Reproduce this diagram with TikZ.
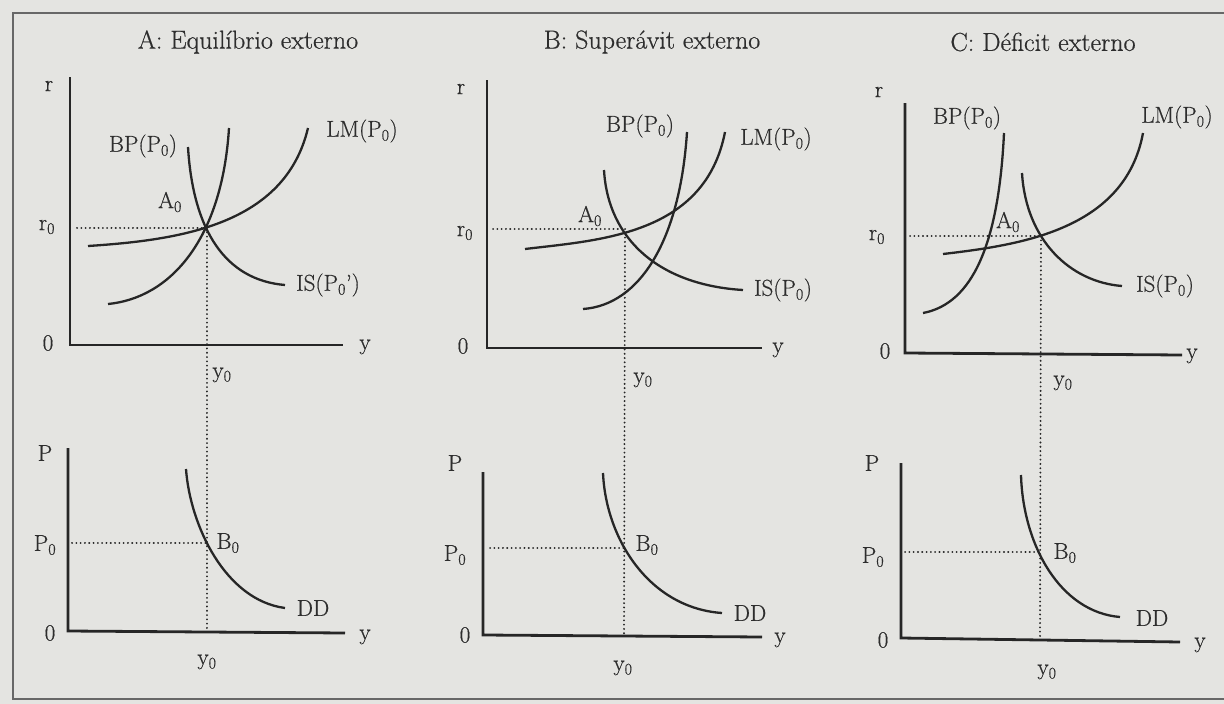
\documentclass[tikz,border=0pt]{standalone}
\usepackage{fontspec}
\setmainfont{Latin Modern Roman}[FakeBold=0.6]
\definecolor{paper}{RGB}{228,228,225}
\definecolor{ink}{RGB}{38,38,38}
\definecolor{txt}{RGB}{45,45,45}
\tikzset{
  curve/.style={draw=ink, line width=2.3pt},
  axis/.style={draw=ink, line width=2.8pt},
  guide/.style={draw=ink, line width=2pt, line cap=round, dash pattern=on 0.1pt off 4.2pt},
  frameline/.style={draw=ink!70, line width=1.3pt},
  lbl/.style={text=txt, inner sep=0pt, font=\fontsize{23}{25}\selectfont},
  ttl/.style={text=txt, inner sep=0pt, font=\fontsize{26}{28}\selectfont}
}
\newcommand{\sz}{\textsubscript{0}}
\begin{document}
\begin{tikzpicture}[x=1pt,y=-1pt]
\useasboundingbox (0,0) rectangle (1224,704);
\fill[paper] (0,0) rectangle (1224,704);
% frame
\draw[frameline] (1224,13) -- (13,13) -- (13,699) -- (1224,699);

% ================= Panel A =================
\node[ttl] (tA) at (248,42) {A: Equilíbrio externo};
% upper axes
\coordinate (A-rtop) at (70,77);
\coordinate (A-o) at (70,345);
\coordinate (A-yend) at (343,345);
\draw[axis] (A-rtop) -- (A-o) -- (A-yend);
\node[lbl] (A-r) at (49,86) {r};
\node[lbl] (A-0) at (48,343) {0};
\node[lbl] (A-y) at (365,347) {y};
\node[lbl] (A-r0) at (47,227) {r\sz};
\coordinate (A-eq) at (207,228);
\coordinate (A-r0l) at (77,228);
\draw[guide] (A-r0l) -- (A-eq);
% curves
\draw[curve] (108,304) .. controls (170,298) and (222,240) .. (229,128);
\draw[curve] (88,246) .. controls (180,240) and (285,225) .. (308,128);
\draw[curve] (188,147) .. controls (193,230) and (225,280) .. (285,285);
\node[lbl] (A-BP) at (143,146) {BP(P\sz)};
\node[lbl] (A-LM) at (362,131) {LM(P\sz)};
\node[lbl] (A-IS) at (328,285) {IS(P\sz')};
\node[lbl] (A-A0) at (170,202) {A\sz};
\node[lbl] (A-y0t) at (222,375) {y\sz};
% lower axes
\coordinate (A-Ptop) at (68,448);
\coordinate (A-o2) at (68,631);
\coordinate (A-yend2) at (345,633);
\draw[axis] (A-Ptop) -- (A-o2) -- (A-yend2);
\coordinate (A-foot) at (207,631);
\draw[guide] (A-eq) -- (A-foot);
\node[lbl] (A-P) at (45,453) {P};
\node[lbl] (A-02) at (50,633) {0};
\node[lbl] (A-y2) at (365,637) {y};
\node[lbl] (A-P0) at (45,545) {P\sz};
\coordinate (A-B) at (207,543);
\coordinate (A-P0l) at (72,543);
\draw[guide] (A-P0l) -- (A-B);
\draw[curve] (186,469) .. controls (190,525) and (225,600) .. (285,608);
\node[lbl] (A-B0) at (228,543) {B\sz};
\node[lbl] (A-DD) at (313,608) {DD};
\node[lbl] (A-y0b) at (207,662) {y\sz};

% ================= Panel B =================
\node[ttl] (tB) at (652,42) {B: Superávit externo};
\coordinate (B-rtop) at (487,80);
\coordinate (B-o) at (487,348);
\coordinate (B-yend) at (762,348);
\draw[axis] (B-rtop) -- (B-o) -- (B-yend);
\node[lbl] (B-r) at (461,89) {r};
\node[lbl] (B-0) at (463,346) {0};
\node[lbl] (B-y) at (778,350) {y};
\node[lbl] (B-r0) at (465,233) {r\sz};
\coordinate (B-eq) at (625,229);
\coordinate (B-r0l) at (493,229);
\draw[guide] (B-r0l) -- (B-eq);
\draw[curve] (525,249) .. controls (600,240) and (705,235) .. (725,132);
\draw[curve] (583,309) .. controls (640,305) and (680,240) .. (687,132);
\draw[curve] (604,170) .. controls (608,240) and (660,285) .. (743,290);
\node[lbl] (B-BP) at (640,126) {BP(P\sz)};
\node[lbl] (B-LM) at (776,139) {LM(P\sz)};
\node[lbl] (B-IS) at (783,290) {IS(P\sz)};
\node[lbl] (B-A0) at (590,216) {A\sz};
\node[lbl] (B-y0t) at (643,380) {y\sz};
\coordinate (B-Ptop) at (483,472);
\coordinate (B-o2) at (483,635);
\coordinate (B-yend2) at (762,637);
\draw[axis] (B-Ptop) -- (B-o2) -- (B-yend2);
\coordinate (B-foot) at (624,636);
\draw[guide] (B-eq) -- (B-foot);
\node[lbl] (B-P) at (455,463) {P};
\node[lbl] (B-02) at (465,635) {0};
\node[lbl] (B-y2) at (780,640) {y};
\node[lbl] (B-P0) at (455,555) {P\sz};
\coordinate (B-B) at (624,548);
\coordinate (B-P0l) at (490,548);
\draw[guide] (B-P0l) -- (B-B);
\draw[curve] (603,473) .. controls (606,540) and (650,608) .. (722,613);
\node[lbl] (B-B0) at (647,545) {B\sz};
\node[lbl] (B-DD) at (750,613) {DD};
\node[lbl] (B-y0b) at (623,668) {y\sz};

% ================= Panel C =================
\node[ttl] (tC) at (1043,42) {C: Déficit externo};
\coordinate (C-rtop) at (905,103);
\coordinate (C-o) at (905,353);
\coordinate (C-yend) at (1182,355);
\draw[axis] (C-rtop) -- (C-o) -- (C-yend);
\node[lbl] (C-r) at (879,92) {r};
\node[lbl] (C-0) at (885,351) {0};
\node[lbl] (C-y) at (1192,356) {y};
\node[lbl] (C-r0) at (877,237) {r\sz};
\coordinate (C-eq) at (1041,236);
\coordinate (C-r0l) at (910,236);
\draw[guide] (C-r0l) -- (C-eq);
\draw[curve] (923,313) .. controls (965,305) and (998,260) .. (1004,133);
\draw[curve] (943,254) .. controls (1020,245) and (1125,230) .. (1143,133);
\draw[curve] (1022,173) .. controls (1026,240) and (1070,282) .. (1122,286);
\node[lbl] (C-BP) at (967,118) {BP(P\sz)};
\node[lbl] (C-LM) at (1177,117) {LM(P\sz)};
\node[lbl] (C-IS) at (1165,286) {IS(P\sz)};
\node[lbl] (C-A0) at (1008,222) {A\sz};
\node[lbl] (C-y0t) at (1063,383) {y\sz};
\coordinate (C-Ptop) at (901,463);
\coordinate (C-o2) at (901,638);
\coordinate (C-yend2) at (1180,642);
\draw[axis] (C-Ptop) -- (C-o2) -- (C-yend2);
\coordinate (C-foot) at (1040,640);
\draw[guide] (C-eq) -- (C-foot);
\node[lbl] (C-P) at (872,463) {P};
\node[lbl] (C-02) at (883,640) {0};
\node[lbl] (C-y2) at (1200,645) {y};
\node[lbl] (C-P0) at (873,557) {P\sz};
\coordinate (C-B) at (1039,552);
\coordinate (C-P0l) at (905,552);
\draw[guide] (C-P0l) -- (C-B);
\draw[curve] (1021,475) .. controls (1023,545) and (1060,612) .. (1120,617);
\node[lbl] (C-B0) at (1065,553) {B\sz};
\node[lbl] (C-DD) at (1152,618) {DD};
\node[lbl] (C-y0b) at (1047,672) {y\sz};
\end{tikzpicture}
\end{document}
